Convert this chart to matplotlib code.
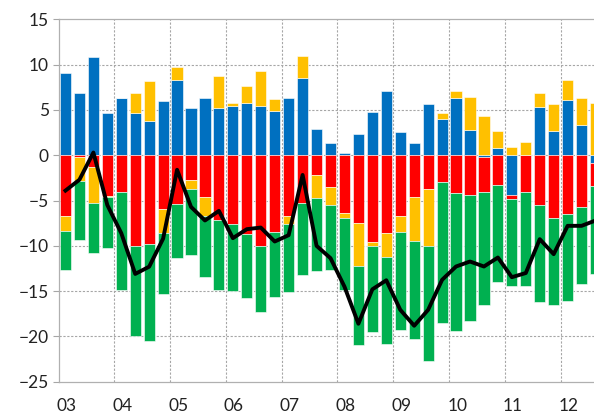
import numpy as np
import matplotlib.pyplot as plt

# quarters 2003Q1 .. 2012Q3 (last one is cut by the right edge)
years = ["03", "04", "05", "06", "07", "08", "09", "10", "11", "12"]

blue = [9.04, 6.84, 10.9, 4.63,
        6.36, 4.63, 3.82, 6.03,
        8.3, 5.18, 6.36, 5.18,
        5.44, 5.74, 5.44, 4.89,
        6.36, 8.57, 2.87, 1.32,
        0.29, 2.39, 4.78, 7.1,
        2.57, 1.32, 5.7, 3.97,
        6.36, 2.79, -0.15, 0.85,
        -4.38, 0.0, 5.29, 2.68,
        6.1, 3.31, -0.81]

red = [-6.76, -0.2, -1.25, -4.5,
       -4.1, -10.0, -9.78, -5.96,
       -5.37, -2.72, -4.56, -7.2,
       -7.57, -8.71, -10.07, -8.42,
       -6.76, -5.3, -2.17, -3.46,
       -6.32, -7.5, -9.56, -8.53,
       -6.76, -4.56, -3.75, -2.9,
       -4.19, -4.38, -3.89, -3.31,
       -0.44, -4.04, -5.48, -6.95,
       -6.43, -5.74, -2.57]

yellow = [-1.62, -2.6, -4.05, -0.15,
          0.0, 2.21, 4.38, -2.64,
          1.48, -0.96, -2.2, 3.57,
          0.36, 1.91, 3.9, 1.32,
          -0.81, 2.43, -2.5, -2.02,
          -0.63, -4.78, -0.44, -2.72,
          -1.66, -4.85, -6.32, 0.66,
          0.74, 3.64, 4.34, 1.83,
          0.92, 1.47, 1.55, 3.02,
          2.2, 2.98, 5.8]

green = [-4.34, -6.6, -5.5, -5.61,
         -10.75, -9.9, -10.77, -6.7,
         -5.99, -7.32, -6.7, -7.7,
         -7.36, -7.06, -7.23, -7.24,
         -7.58, -7.9, -8.16, -7.24,
         -7.9, -8.68, -9.49, -9.6,
         -10.92, -10.85, -12.61, -15.63,
         -15.26, -13.89, -12.54, -10.69,
         -9.59, -10.37, -10.72, -9.55,
         -9.71, -8.45, -9.72]

total = [-3.9, -2.7, 0.3, -5.5,
         -8.6, -13.1, -12.3, -9.2,
         -1.6, -5.7, -7.2, -6.14,
         -9.15, -8.16, -7.98, -9.52,
         -8.82, -2.17, -10.0, -11.36,
         -14.5, -18.6, -14.8, -13.8,
         -17.06, -18.82, -17.06, -13.75,
         -12.28, -11.73, -12.28, -11.29,
         -13.46, -13.0, -9.26, -10.92,
         -7.79, -7.79, -7.2]

series = [(blue, "#0070C0"), (red, "#FF0000"), (yellow, "#FFC000"), (green, "#00B050")]

plt.rcParams['font.family'] = ['Lato', 'DejaVu Sans']

fig = plt.figure(figsize=(5.94, 4.18), dpi=100)
ax = fig.add_axes([0.0985, 0.0868, 0.9015, 0.8668])

n = len(blue)
x = np.arange(n) + 0.5
pos = np.zeros(n)
neg = np.zeros(n)
for vals, col in series:
    v = np.array(vals)
    bottom = np.where(v >= 0, pos, neg)
    ax.bar(x, v, 0.8, bottom=bottom, color=col, edgecolor="white", linewidth=0.4, zorder=2)
    pos = pos + np.clip(v, 0, None)
    neg = neg + np.clip(v, None, 0)

ax.plot(x, total, color="black", lw=2.8, zorder=3)

# grid
for k in range(1, 10):
    ax.axvline(4 * k, color="#a6a6a6", lw=0.8, ls=(0, (2, 1.5)), zorder=1)
for yv in range(-20, 15, 5):
    ax.axhline(yv, color="#a6a6a6", lw=0.8, ls=(0, (2, 1.5)), zorder=1)

ax.set_xlim(0, 38.39)
ax.set_ylim(-25, 15)
ax.set_yticks(range(-25, 16, 5))
ax.set_xticks(np.arange(len(years)) * 4 + 0.58)
ax.set_xticklabels(years)
ax.tick_params(axis="x", length=0, pad=12, labelsize=12.5, colors="#222222")
ax.tick_params(axis="y", length=4, width=0.8, color="#a6a6a6", pad=3, labelsize=12.5, colors="#222222")

for s in ["left", "bottom", "top"]:
    ax.spines[s].set_color("#b0b0b0")
    ax.spines[s].set_linewidth(0.9)
ax.spines["right"].set_visible(False)

fig.savefig("out.png", dpi=100)
